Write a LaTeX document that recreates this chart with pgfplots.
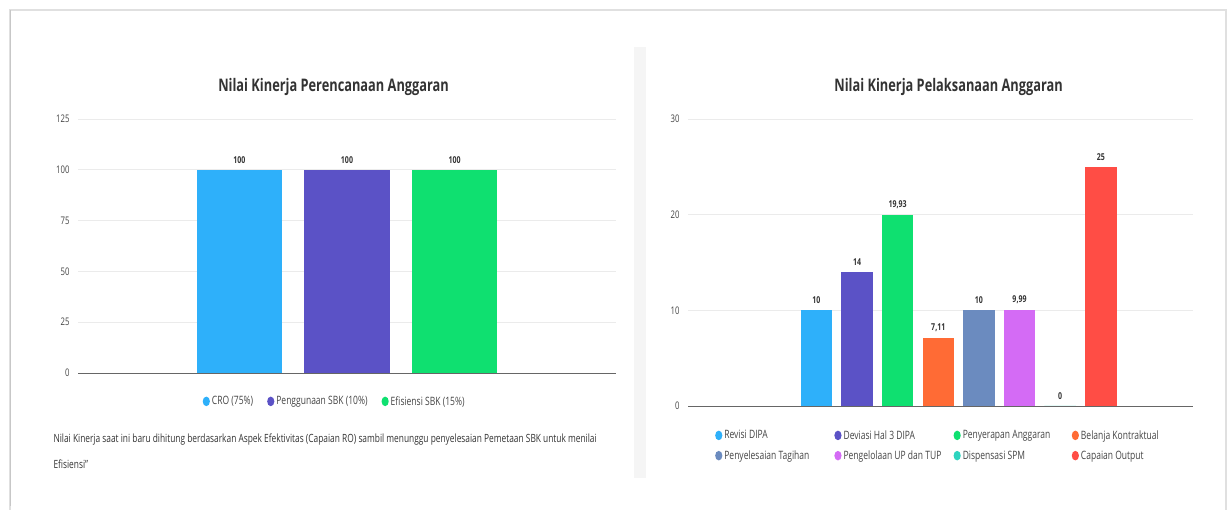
\documentclass[border=0pt]{standalone}
\usepackage{fontspec}
\setmainfont{Open Sans}[FakeStretch=0.74]
\usepackage{pgfplots}
\pgfplotsset{compat=1.18}
\definecolor{cA}{HTML}{2EB0FA}
\definecolor{cB}{HTML}{5B52C6}
\definecolor{cC}{HTML}{0FE070}
\definecolor{cD}{HTML}{FF6B35}
\definecolor{cE}{HTML}{6B8BBF}
\definecolor{cF}{HTML}{D46BF5}
\definecolor{cG}{HTML}{2DD4BF}
\definecolor{cH}{HTML}{FF4D45}
\definecolor{gridc}{HTML}{EBEBEB}
\definecolor{txt}{HTML}{333333}
\definecolor{tick}{HTML}{444444}
\pgfplotsset{
  mybase/.style={
    scale only axis, anchor=south west,
    ybar, bar shift=0pt,
    axis x line*=bottom, axis y line*=left,
    x axis line style={draw=black!60, line width=0.9pt},
    y axis line style={draw=none},
    xtick=\empty, ymin=0,
    ymajorgrids, grid style={gridc, line width=0.7pt},
    yticklabel style={font=\fontsize{10.5}{12}\selectfont, text=tick, xshift=-5pt},
    /pgf/number format/assume math mode=true,
    ytick style={draw=none},
    nodes near coords,
    point meta=explicit symbolic,
    every node near coord/.append style={font=\bfseries\fontsize{9.5}{11}\selectfont, text=txt, yshift=3pt},
    legend style={draw=none, fill=none, font=\fontsize{11.5}{13}\selectfont, text=tick},
    legend image code/.code={\fill[##1, draw=none] (0pt,0pt) ellipse (3.6pt and 4.8pt);},
    title style={font=\bfseries\fontsize{17.3}{20}\selectfont, text=txt},
  }
}
\begin{document}
\begin{tikzpicture}[x=1pt,y=1pt]
\path[use as bounding box] (0,0) rectangle (1229,514);
% card frame
\draw[black!12, line width=1.5pt] (10,4) -- (10,504) -- (1226,504) -- (1226,4);
\draw[black!22, line width=1pt] (10,8) -- (10,504);
\fill[black!4] (634,36) rectangle (646,467);
% left chart
\begin{axis}[mybase, at={(78pt,141pt)}, width=538pt, height=254pt,
  ymax=125, ytick={0,25,...,125}, xmin=-1.5, xmax=3.5,
  bar width=85.7pt,
  title={Nilai Kinerja Perencanaan Anggaran}, title style={at={(0.475,1)}, yshift=14pt},
  legend columns=3,
  legend style={at={(0.477,-0.075)}, anchor=north, /tikz/every even column/.append style={column sep=12pt}},
]
\addplot[fill=cA, draw=none] coordinates {(0,100) [100]};
\addlegendentry{CRO (75\%)}
\addplot[fill=cB, draw=none] coordinates {(1,100) [100]};
\addlegendentry{Penggunaan SBK (10\%)}
\addplot[fill=cC, draw=none] coordinates {(2,100) [100]};
\addlegendentry{Efisiensi SBK (15\%)}
\end{axis}
\node[anchor=west, font=\fontsize{11.3}{13}\selectfont, text=txt] at (50,74) {Nilai Kinerja saat ini baru dihitung berdasarkan Aspek Efektivitas (Capaian RO) sambil menunggu penyelesaian Pemetaan SBK untuk menilai};
\node[anchor=west, font=\fontsize{11.3}{13}\selectfont, text=txt] at (50,50) {Efisiensi”};
% right chart
\begin{axis}[mybase, at={(688pt,108pt)}, width=505pt, height=287pt,
  ymax=30, ytick={0,10,20,30}, xmin=-3.16, xmax=9.27,
  bar width=31.5pt,
  title={Nilai Kinerja Pelaksanaan Anggaran}, title style={at={(0.516,1)}, yshift=14pt},
  legend columns=4, legend cell align=left,
  legend style={at={(0.512,-0.07)}, anchor=north, row sep=6pt, /tikz/every even column/.append style={column sep=0pt}},
]
\addplot[fill=cA, draw=none] coordinates {(0,10) [10]};
\addlegendentry{\makebox[108pt][l]{Revisi DIPA}}
\addplot[fill=cB, draw=none] coordinates {(1,14) [14]};
\addlegendentry{\makebox[108pt][l]{Deviasi Hal 3 DIPA}}
\addplot[fill=cC, draw=none] coordinates {(2,19.93) [{19,93}]};
\addlegendentry{\makebox[107pt][l]{Penyerapan Anggaran}}
\addplot[fill=cD, draw=none] coordinates {(3,7.11) [{7,11}]};
\addlegendentry{\makebox[95pt][l]{Belanja Kontraktual}}
\addplot[fill=cE, draw=none] coordinates {(4,10) [10]};
\addlegendentry{\makebox[108pt][l]{Penyelesaian Tagihan}}
\addplot[fill=cF, draw=none] coordinates {(5,9.99) [{9,99}]};
\addlegendentry{\makebox[108pt][l]{Pengelolaan UP dan TUP}}
\addplot[fill=cG, draw=none] coordinates {(6,0) [0]};
\addlegendentry{\makebox[107pt][l]{Dispensasi SPM}}
\addplot[fill=cH, draw=none] coordinates {(7,25) [25]};
\addlegendentry{\makebox[95pt][l]{Capaian Output}}
\end{axis}
\end{tikzpicture}
\end{document}
